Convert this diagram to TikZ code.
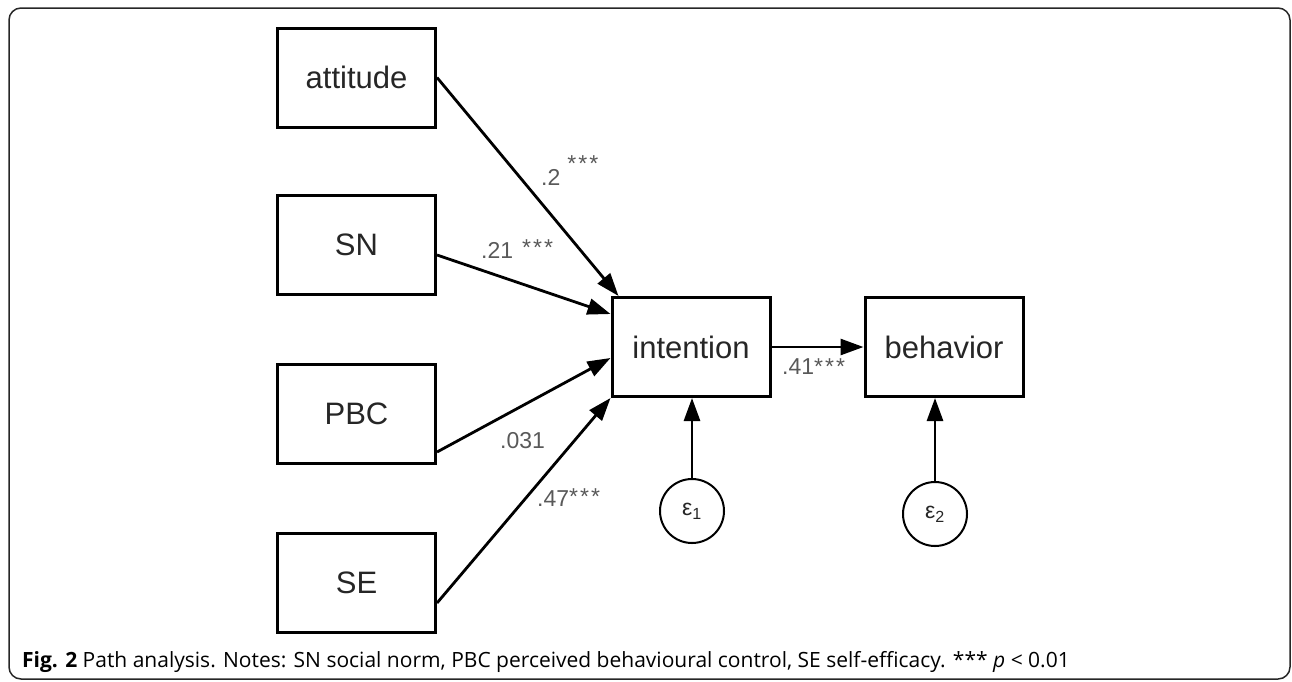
\documentclass[tikz,border=0pt]{standalone}
\usepackage{fontspec}
\setmainfont{Liberation Sans}
\newfontfamily\capfont{Open Sans}
\usetikzlibrary{arrows.meta,calc}
\newcommand\sigstars[1]{\raisebox{#1}{*\kern2pt*\kern2pt*}}
\begin{document}
\begin{tikzpicture}[x=1pt,y=-1pt,
  var/.style={draw=black,line width=3pt,minimum width=158pt,minimum height=99pt,inner sep=0pt,
    font=\fontsize{31}{31}\selectfont,text=black!85},
  err/.style={draw=black,circle,line width=2pt,minimum size=64pt,inner sep=0pt,
    font=\fontsize{23}{23}\selectfont,text=black!85},
  pth/.style={line width=2.8pt,-{Triangle[length=23pt,width=16pt]}},
  coef/.style={font=\fontsize{23}{23}\selectfont,text=black!65,inner sep=0pt,anchor=base west}]
\useasboundingbox (0,0) rectangle (1292,681);
\draw[line width=1.5pt,black!85,rounded corners=12pt] (9,8) rectangle (1290,679);

\node[var] (attitude) at (356.5,77.5) {attitude};
\node[var] (SN) at (356.5,245) {SN};
\node[var] (PBC) at (356.5,414) {PBC};
\node[var] (SE) at (356.5,583) {SE};
\node[var] (intention) at (691,347) {intention};
\node[var] (behavior) at (944,347) {behavior};
\node[err] (e1) at (692,511) {ε\textsubscript{1}};
\node[err] (e2) at (935,514) {ε\textsubscript{2}};

\draw[pth] (attitude.east) -- ($(intention.north west)+(8,0)$);
\draw[pth] ($(SN.east)+(0,10)$) -- ($(intention.north west)+(0,18)$);
\draw[pth] ($(PBC.south east)+(0,-13)$) -- ($(intention.west)+(0,11)$);
\draw[pth] ($(SE.east)+(0,20)$) -- (intention.south west);
\draw[pth] (intention) -- (behavior);
\draw[pth] (e1) -- (e1 |- intention.south);
\draw[pth] (e2) -- (e2 |- behavior.south);

\node[coef] (c1) at (541,185) {.2\hspace{7pt}\sigstars{14pt}};
\node[coef] (c2) at (481,258) {.21\hspace{9pt}\sigstars{3pt}};
\node[coef] (c3) at (500,448) {.031};
\node[coef] (c4) at (537,506) {.47\sigstars{2pt}};
\node[coef] (c5) at (782,374) {.41\sigstars{0pt}};

\node[anchor=base west,inner sep=0pt,font=\capfont\fontsize{21}{21}\selectfont] (cap) at (22,667)
  {\textbf{Fig. 2} Path analysis. Notes: SN social norm, PBC perceived behavioural control, SE self-efficacy. *** \textit{p} < 0.01};
\end{tikzpicture}
\end{document}
